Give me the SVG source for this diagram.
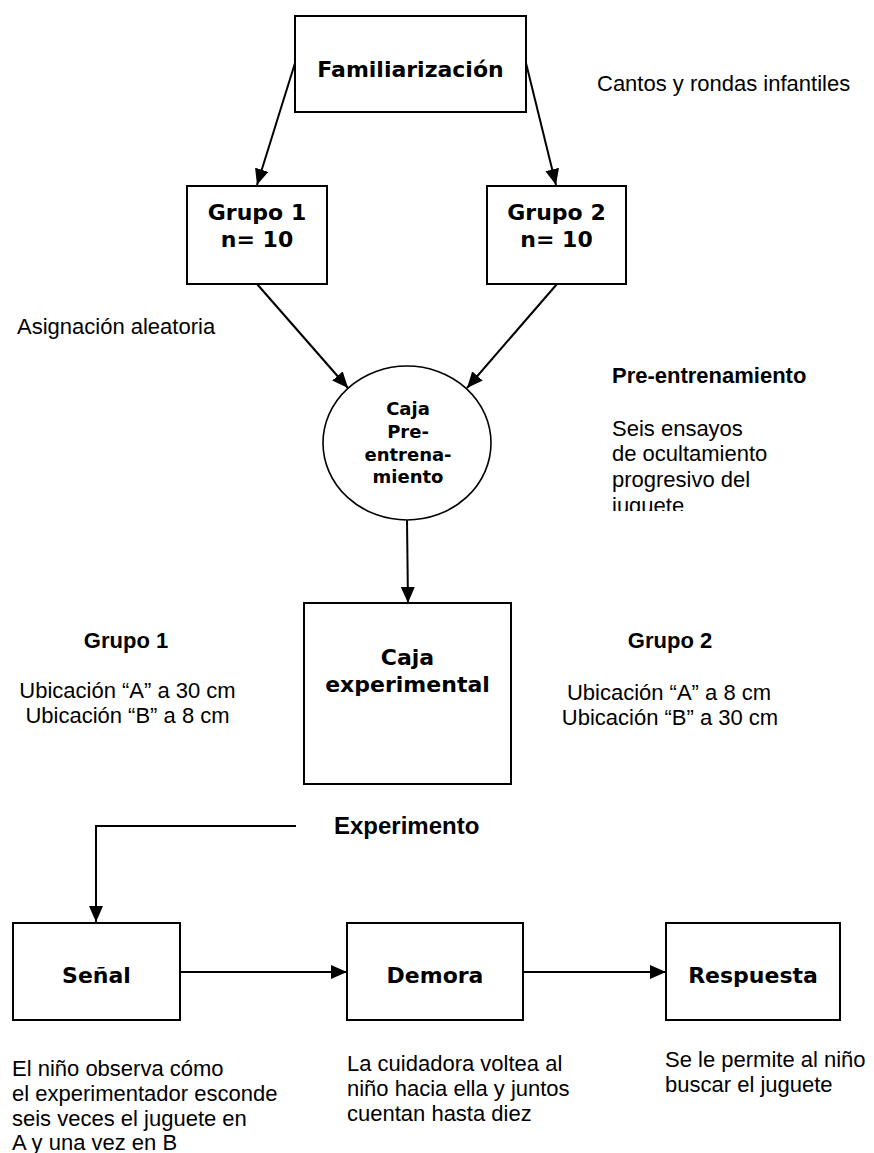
<svg xmlns="http://www.w3.org/2000/svg" width="874" height="1153" viewBox="0 0 874 1153">
  <style>
    .box { fill: #ffffff; stroke: #000000; stroke-width: 2; }
    .oval { fill: #ffffff; stroke: #000000; stroke-width: 1.6; }
    .edge { fill: none; stroke: #000000; stroke-width: 2; }
    .arrow { marker-end: url(#head); }
    .node { font-family: "DejaVu Sans", Verdana, sans-serif; font-weight: bold; font-size: 22px; text-anchor: middle; fill: #000000; }
    .small { font-size: 18px; }
    .note { font-family: "Liberation Sans", Arial, sans-serif; font-size: 22px; fill: #000000; }
    .head { font-weight: bold; }
    .big { font-size: 24px; }
    .mid { text-anchor: middle; }
  </style>
  <defs>
    <marker id="head" markerUnits="userSpaceOnUse" markerWidth="16" markerHeight="14" viewBox="0 0 16 14" refX="16" refY="7" orient="auto">
      <path d="M0,0 L16,7 L0,14 Z" fill="#000000"/>
    </marker>
    <clipPath id="noteClip">
      <rect x="600" y="360" width="274" height="151"/>
    </clipPath>
  </defs>

  <!-- connectors -->
  <g id="connectors">
    <line class="edge arrow" x1="295" y1="63" x2="257" y2="185"/>
    <line class="edge arrow" x1="526" y1="63" x2="556" y2="185"/>
    <line class="edge arrow" x1="257" y1="284" x2="348" y2="388"/>
    <line class="edge arrow" x1="557" y1="284" x2="467" y2="388"/>
    <line class="edge arrow" x1="407" y1="520" x2="408" y2="603"/>
    <polyline class="edge arrow" points="296,826 96,826 96,922"/>
    <line class="edge arrow" x1="180" y1="972" x2="347" y2="972"/>
    <line class="edge arrow" x1="523" y1="972" x2="666" y2="972"/>
  </g>

  <!-- nodes -->
  <g id="familiarizacion">
    <rect class="box" x="295" y="16" width="231" height="96"/>
    <text class="node" x="410.5" y="77">Familiarización</text>
  </g>

  <g id="grupo1">
    <rect class="box" x="187" y="186" width="140" height="98"/>
    <text class="node" x="257" y="220">Grupo 1</text>
    <text class="node" x="257" y="247">n= 10</text>
  </g>

  <g id="grupo2">
    <rect class="box" x="487" y="186" width="139" height="98"/>
    <text class="node" x="556.5" y="220">Grupo 2</text>
    <text class="node" x="556.5" y="247">n= 10</text>
  </g>

  <g id="caja-preentrenamiento">
    <ellipse class="oval" cx="407" cy="443" rx="84" ry="77"/>
    <text class="node small" x="408" y="415">Caja</text>
    <text class="node small" x="408" y="438">Pre-</text>
    <text class="node small" x="408" y="461">entrena-</text>
    <text class="node small" x="408" y="483">miento</text>
  </g>

  <g id="caja-experimental">
    <rect class="box" x="304" y="603" width="207" height="181"/>
    <text class="node" x="407.5" y="665">Caja</text>
    <text class="node" x="407.5" y="692">experimental</text>
  </g>

  <g id="senal">
    <rect class="box" x="13" y="923" width="167" height="97"/>
    <text class="node" x="96.5" y="983">Señal</text>
  </g>

  <g id="demora">
    <rect class="box" x="347" y="923" width="176" height="97"/>
    <text class="node" x="435" y="983">Demora</text>
  </g>

  <g id="respuesta">
    <rect class="box" x="666" y="923" width="174" height="97"/>
    <text class="node" x="753" y="983">Respuesta</text>
  </g>

  <!-- side notes -->
  <g id="notes">
    <text class="note" x="597" y="91">Cantos y rondas infantiles</text>
    <text class="note" x="17" y="334">Asignación aleatoria</text>

    <text class="note head" x="612" y="383">Pre-entrenamiento</text>
    <g clip-path="url(#noteClip)">
      <text class="note" x="612" y="436">Seis ensayos</text>
      <text class="note" x="612" y="461">de ocultamiento</text>
      <text class="note" x="612" y="487">progresivo del</text>
      <text class="note" x="612" y="513">juguete</text>
    </g>

    <text class="note head mid" x="126" y="648">Grupo 1</text>
    <text class="note mid" x="127.5" y="698">Ubicación “A” a 30 cm</text>
    <text class="note mid" x="127.5" y="723">Ubicación “B” a 8 cm</text>

    <text class="note head mid" x="670" y="648">Grupo 2</text>
    <text class="note mid" x="669" y="700">Ubicación “A” a 8 cm</text>
    <text class="note mid" x="670" y="725">Ubicación “B” a 30 cm</text>

    <text class="note head big" x="334" y="834">Experimento</text>

    <text class="note" x="12" y="1076">El niño observa cómo</text>
    <text class="note" x="12" y="1101">el experimentador esconde</text>
    <text class="note" x="12" y="1126">seis veces el juguete en</text>
    <text class="note" x="12" y="1150">A y una vez en B</text>

    <text class="note" x="347" y="1071">La cuidadora voltea al</text>
    <text class="note" x="347" y="1096">niño hacia ella y juntos</text>
    <text class="note" x="347" y="1121">cuentan hasta diez</text>

    <text class="note" x="665" y="1067">Se le permite al niño</text>
    <text class="note" x="665" y="1092">buscar el juguete</text>
  </g>
</svg>
